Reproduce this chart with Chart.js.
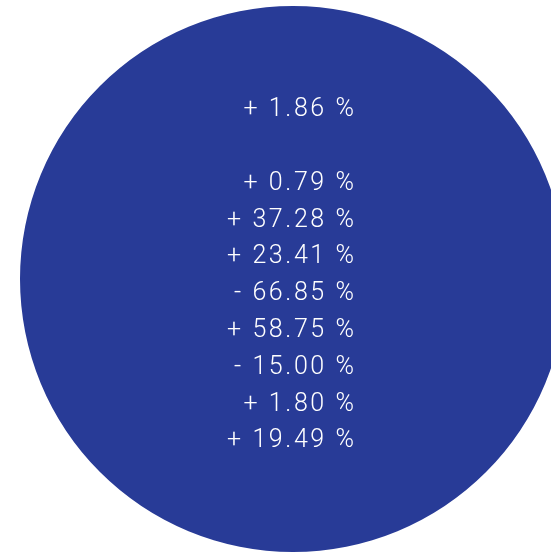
<!DOCTYPE html>
<html>
<head>
<meta charset="utf-8">
<script src="https://cdn.jsdelivr.net/npm/chart.js@4/dist/chart.umd.min.js"></script>
<style>
  html, body { margin: 0; padding: 0; background: #fff; overflow: hidden; width: 551px; height: 553px; }
  #pie { position: absolute; left: 0; top: 0; }
</style>
</head>
<body>
<canvas id="pie" width="586" height="558"></canvas>
<script>
// single slice disc with a column of percentage changes
const sliceLabels = ['Total'];
const sliceValues = [100];
const sliceColors = ['#283b97'];

// null = empty row
const changes = [1.86, null, 0.79, 37.28, 23.41, -66.85, 58.75, -15.00, 1.80, 19.49];

function fmtChange(v) {
  if (v === null) return '';
  return (v < 0 ? '- ' : '+ ') + Math.abs(v).toFixed(2) + ' %';
}

const changeLabels = {
  id: 'changeLabels',
  afterDraw(chart) {
    const arc = chart.getDatasetMeta(0).data[0];
    if (!arc) return;
    const { ctx } = chart;
    const rowH = 36.8;
    const spacing = 2.6;
    ctx.save();
    ctx.fillStyle = '#ffffff';
    ctx.font = '300 25px Roboto, "Helvetica Neue", sans-serif';
    ctx.letterSpacing = spacing + 'px';
    ctx.textAlign = 'right';
    ctx.textBaseline = 'middle';
    changes.forEach((v, i) => {
      // letterSpacing also trails the last glyph, so push right by it
      ctx.fillText(fmtChange(v), arc.x + 61 + spacing, arc.y - 169 + i * rowH);
    });
    ctx.restore();
  }
};

new Chart(document.getElementById('pie'), {
  type: 'pie',
  data: {
    labels: sliceLabels,
    datasets: [{
      data: sliceValues,
      backgroundColor: sliceColors,
      borderWidth: 0,
      hoverOffset: 0,
    }]
  },
  options: {
    responsive: false,
    animation: false,
    devicePixelRatio: 1,
    layout: { padding: { top: 6, bottom: 6, left: 0, right: 0 } },
    plugins: {
      legend: { display: false },
      tooltip: { enabled: false }
    }
  },
  plugins: [changeLabels]
});
</script>
</body>
</html>
